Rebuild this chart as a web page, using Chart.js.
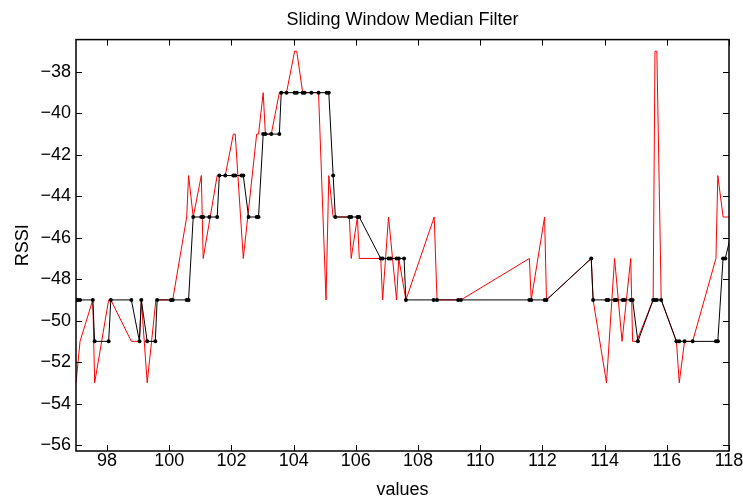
<!DOCTYPE html>
<html>
<head>
<meta charset="utf-8">
<title>Sliding Window Median Filter</title>
<script src="https://cdn.jsdelivr.net/npm/chart.js@4"></script>
<style>
  html, body { margin: 0; padding: 0; background: #fff; }
  #wrap { width: 743px; height: 497px; }
</style>
</head>
<body>
<div id="wrap"><canvas id="chart" width="743" height="497"></canvas></div>
<script>
// Raw RSSI samples (red trace)
const rawX = [97.00, 97.13, 97.54, 97.60, 98.05, 98.12, 98.78, 99.04, 99.10, 99.29,
  99.57, 100.11, 100.56, 100.62, 100.77, 101.03, 101.09, 101.54, 101.80, 102.06,
  102.12, 102.38, 102.81, 102.87, 103.02, 103.09, 103.28, 103.54, 103.77, 104.03,
  104.10, 104.29, 104.80, 105.04, 105.13, 105.27, 105.79, 105.85, 106.05, 106.11,
  106.80, 106.86, 107.05, 107.31, 107.38, 107.61, 108.52, 108.61, 109.38, 111.58,
  111.64, 112.07, 112.13, 113.57, 113.63, 114.06, 114.32, 114.56, 114.84, 114.90,
  115.03, 115.56, 115.62, 115.68, 115.82, 116.31, 116.40, 116.57, 116.83, 117.58,
  117.64, 117.81, 118.20];
const rawRssi = [-53, -51, -49, -53, -49, -49, -51, -51, -49, -53,
  -49, -49, -45, -43, -45, -43, -47, -43, -43, -41,
  -41, -47, -41, -41, -39, -41, -41, -39, -39, -37,
  -37, -39, -39, -49, -43, -45, -45, -47, -45, -47,
  -47, -49, -45, -49, -47, -49, -45, -49, -49, -47,
  -49, -45, -49, -47, -49, -53, -47, -51, -47, -51,
  -51, -49, -37, -37, -49, -51, -53, -51, -51, -47,
  -43, -45, -45];

// Median-filtered output (black trace with dots)
const medX = [97.00, 97.06, 97.13, 97.54, 97.60, 98.05, 98.12, 98.78, 99.04, 99.10,
  99.29, 99.55, 99.61, 100.05, 100.11, 100.56, 100.62, 100.77, 101.03, 101.09,
  101.29, 101.54, 101.61, 101.80, 102.06, 102.12, 102.32, 102.38, 102.55, 102.81,
  102.87, 103.02, 103.09, 103.28, 103.54, 103.60, 103.77, 104.03, 104.10, 104.29,
  104.35, 104.57, 104.80, 105.06, 105.13, 105.27, 105.34, 105.79, 105.85, 106.05,
  106.11, 106.80, 106.86, 107.05, 107.12, 107.31, 107.38, 107.55, 107.61, 108.50,
  108.61, 109.29, 109.38, 111.58, 111.64, 112.07, 112.13, 113.57, 113.63, 114.06,
  114.12, 114.32, 114.38, 114.58, 114.64, 114.84, 114.90, 115.07, 115.56, 115.62,
  115.68, 115.82, 116.31, 116.40, 116.57, 116.83, 117.58, 117.64, 117.81, 117.88,
  118.20];
const medRssi = [-49, -49, -49, -49, -51, -51, -49, -49, -51, -49,
  -51, -51, -49, -49, -49, -49, -49, -45, -45, -45,
  -45, -45, -43, -43, -43, -43, -43, -43, -45, -45,
  -45, -41, -41, -41, -41, -39, -39, -39, -39, -39,
  -39, -39, -39, -39, -39, -43, -45, -45, -45, -45,
  -45, -47, -47, -47, -47, -47, -47, -47, -49, -49,
  -49, -49, -49, -49, -49, -49, -49, -47, -49, -49,
  -49, -49, -49, -49, -49, -49, -49, -51, -49, -49,
  -49, -49, -51, -51, -51, -51, -51, -51, -47, -47,
  -45];

// Axis settings
const xMin = 97, xMax = 118, xStep = 2;
const yMin = -56.29, yMax = -36.44, yStep = 2;
const titleText = 'Sliding Window Median Filter';
const xTitle = 'values';
const yTitle = 'RSSI';

const FONT = '"Liberation Sans", Arial, Helvetica, sans-serif';
const TICK_LEN = 6;

const toPoints = (xs, ys) => xs.map((x, i) => ({ x, y: ys[i] }));
const minusSign = v => String(v).replace('-', '\u2212');

// Boxed axes with inward ticks on all four sides
const boxTicks = {
  id: 'boxTicks',
  afterDatasetsDraw(chart) {
    const { ctx, chartArea: a, scales: { x, y } } = chart;
    ctx.save();
    ctx.strokeStyle = '#000';
    ctx.lineWidth = 1;
    ctx.beginPath();
    x.ticks.forEach(t => {
      const p = Math.round(x.getPixelForValue(t.value)) + 0.5;
      ctx.moveTo(p, a.bottom); ctx.lineTo(p, a.bottom - TICK_LEN);
      ctx.moveTo(p, a.top); ctx.lineTo(p, a.top + TICK_LEN);
    });
    y.ticks.forEach(t => {
      const p = Math.round(y.getPixelForValue(t.value)) + 0.5;
      ctx.moveTo(a.left, p); ctx.lineTo(a.left + TICK_LEN, p);
      ctx.moveTo(a.right, p); ctx.lineTo(a.right - TICK_LEN, p);
    });
    ctx.stroke();
    ctx.lineWidth = 1.5;
    ctx.strokeRect(a.left, a.top, a.right - a.left, a.bottom - a.top);
    ctx.restore();
  }
};

new Chart(document.getElementById('chart'), {
  type: 'scatter',
  data: {
    datasets: [
      {
        label: 'median',
        data: toPoints(medX, medRssi),
        showLine: true,
        borderColor: '#000',
        backgroundColor: '#000',
        borderWidth: 1,
        pointRadius: 2,
        pointHoverRadius: 2,
        pointBorderWidth: 0,
        tension: 0
      },
      {
        label: 'raw',
        data: toPoints(rawX, rawRssi),
        showLine: true,
        borderColor: '#ff0000',
        backgroundColor: '#ff0000',
        borderWidth: 1,
        pointRadius: 0,
        tension: 0
      }
    ]
  },
  options: {
    responsive: false,
    animation: false,
    devicePixelRatio: 1,
    layout: { padding: { left: 0, right: 14, top: 0, bottom: 0 } },
    plugins: {
      legend: { display: false },
      tooltip: { enabled: false },
      title: {
        display: true,
        text: titleText,
        fullSize: false,
        color: '#000',
        font: { family: FONT, size: 18, weight: 'normal', lineHeight: 1.2 },
        padding: { top: 9, bottom: 9 }
      }
    },
    scales: {
      x: {
        type: 'linear',
        min: xMin, max: xMax,
        grid: { display: false, drawTicks: false },
        border: { display: false },
        ticks: {
          stepSize: xStep, includeBounds: false, autoSkip: false, maxRotation: 0,
          padding: 1, color: '#000',
          font: { family: FONT, size: 18, lineHeight: 1 },
          callback: v => minusSign(v)
        },
        title: {
          display: true, text: xTitle, color: '#000',
          font: { family: FONT, size: 18, lineHeight: 1 },
          padding: { top: 0, bottom: -2 }
        },
        afterFit(s) { s.height = 46; s.paddingLeft = 0; s.paddingRight = 0; }
      },
      y: {
        type: 'linear',
        min: yMin, max: yMax,
        grid: { display: false, drawTicks: false },
        border: { display: false },
        ticks: {
          stepSize: yStep, includeBounds: false, autoSkip: false,
          padding: 5, color: '#000',
          font: { family: FONT, size: 18, lineHeight: 1 },
          callback: v => minusSign(v)
        },
        title: {
          display: true, text: yTitle, color: '#000',
          font: { family: FONT, size: 18, lineHeight: 1 },
          padding: { top: 14, bottom: 0 }
        },
        afterFit(s) { s.width = 76; s.paddingTop = 0; s.paddingBottom = 0; }
      }
    }
  },
  plugins: [boxTicks]
});
</script>
</body>
</html>
